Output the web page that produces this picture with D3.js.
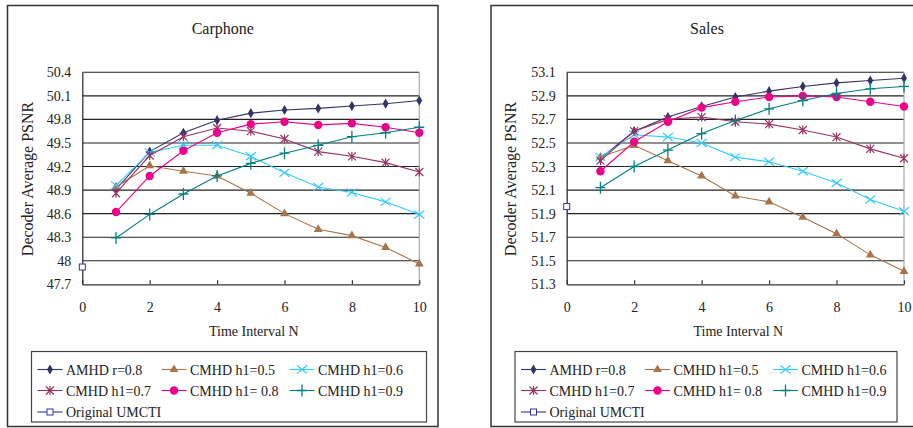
<!DOCTYPE html>
<html>
<head>
<meta charset="utf-8">
<script src="https://cdn.jsdelivr.net/npm/d3@7"></script>
<style>
  body { margin: 0; background: #fff; }
  svg text { font-family: "Liberation Serif", "Times New Roman", serif; fill: #222; }
</style>
</head>
<body>
<svg id="chart" width="913" height="428"></svg>
<script>
// time interval N for every series
let intervals = [1, 2, 3, 4, 5, 6, 7, 8, 9, 10];
let xTicks = [0, 2, 4, 6, 8, 10];

let seriesNames = ["AMHD r=0.8", "CMHD h1=0.5", "CMHD h1=0.6",
                   "CMHD h1=0.7", "CMHD h1= 0.8", "CMHD h1=0.9"];
let umctiName = "Original UMCTI";

// Carphone
let carphoneAMHD = [48.91, 49.39, 49.63, 49.79, 49.88, 49.92, 49.94, 49.97, 50.00, 50.04];
let carphoneH05  = [48.94, 49.21, 49.14, 49.08, 48.86, 48.60, 48.40, 48.32, 48.17, 47.96];
let carphoneH06  = [48.96, 49.38, 49.47, 49.47, 49.33, 49.12, 48.94, 48.87, 48.75, 48.59];
let carphoneH07  = [48.86, 49.34, 49.58, 49.69, 49.65, 49.55, 49.39, 49.33, 49.25, 49.13];
let carphoneH08  = [48.62, 49.08, 49.40, 49.63, 49.74, 49.77, 49.73, 49.75, 49.70, 49.63];
let carphoneH09  = [48.29, 48.59, 48.85, 49.08, 49.24, 49.37, 49.47, 49.58, 49.63, 49.70];
let carphoneUMCTI = 47.92;
let carphoneTicks = [47.7, 48.0, 48.3, 48.6, 48.9, 49.2, 49.5, 49.8, 50.1, 50.4];

// Sales
let salesAMHD = [52.37, 52.60, 52.72, 52.81, 52.89, 52.94, 52.98, 53.01, 53.03, 53.05];
let salesH05  = [52.38, 52.48, 52.35, 52.22, 52.05, 52.00, 51.87, 51.73, 51.55, 51.41];
let salesH06  = [52.38, 52.57, 52.55, 52.50, 52.38, 52.34, 52.26, 52.16, 52.02, 51.92];
let salesH07  = [52.35, 52.60, 52.70, 52.72, 52.68, 52.66, 52.61, 52.55, 52.45, 52.37];
let salesH08  = [52.26, 52.51, 52.68, 52.80, 52.85, 52.89, 52.90, 52.89, 52.85, 52.81];
let salesH09  = [52.12, 52.30, 52.44, 52.58, 52.69, 52.79, 52.86, 52.92, 52.96, 52.98];
let salesUMCTI = 51.96;
let salesTicks = [51.3, 51.5, 51.7, 51.9, 52.1, 52.3, 52.5, 52.7, 52.9, 53.1];

let colours = ["#333366", "#a8744a", "#33ccff", "#993366", "#ee0088", "#008080"];
let umctiColour = "#333399";
let shapes = ["diamond", "triangle", "cross", "star", "circle", "plus"];

let svg = d3.select("#chart");

function marker(g, shape, cx, cy, colour) {
    if (shape === "diamond") {
        g.append("path").attr("d", d3.symbol(d3.symbolDiamond, 30)())
            .attr("transform", "translate(" + cx + "," + cy + ")").attr("fill", colour);
    } else if (shape === "triangle") {
        g.append("path").attr("d", d3.symbol(d3.symbolTriangle, 34)())
            .attr("transform", "translate(" + cx + "," + cy + ")").attr("fill", colour);
    } else if (shape === "circle") {
        g.append("circle").attr("cx", cx).attr("cy", cy).attr("r", 4.2).attr("fill", colour);
    } else if (shape === "cross") {
        g.append("path").attr("d", "M-5,-4L5,4M-5,4L5,-4")
            .attr("transform", "translate(" + cx + "," + cy + ")")
            .attr("stroke", colour).attr("stroke-width", 1.2).attr("fill", "none");
    } else if (shape === "plus") {
        g.append("path").attr("d", "M-5,0L5,0M0,-6L0,6")
            .attr("transform", "translate(" + cx + "," + cy + ")")
            .attr("stroke", colour).attr("stroke-width", 1.3).attr("fill", "none");
    } else if (shape === "star") {
        g.append("path").attr("d", "M-4,-4L4,4M-4,4L4,-4M0,-4.5L0,4.5")
            .attr("transform", "translate(" + cx + "," + cy + ")")
            .attr("stroke", colour).attr("stroke-width", 1.2).attr("fill", "none");
    } else if (shape === "square") {
        g.append("rect").attr("x", cx - 3).attr("y", cy - 3).attr("width", 6).attr("height", 6)
            .attr("fill", "#fff").attr("stroke", colour).attr("stroke-width", 1);
    }
}

function drawPanel(p) {
    let g = svg.append("g");

    g.append("rect")
        .attr("x", p.frame[0]).attr("y", 5.5)
        .attr("width", p.frame[1]).attr("height", 421)
        .attr("fill", "#fff").attr("stroke", "#333").attr("stroke-width", 1.5);

    g.append("text")
        .attr("x", p.frame[0] + p.frame[1] / 2).attr("y", 34)
        .attr("text-anchor", "middle").attr("font-size", 16)
        .text(p.title);

    let x = d3.scaleLinear().domain([0, 10]).range([p.left, p.right]);
    let y = d3.scaleLinear().domain(d3.extent(p.ticks)).range([284.3, 72.3]);

    // gridlines
    g.selectAll(".grid").data(p.ticks.slice(1)).enter()
        .append("line")
        .attr("x1", p.left).attr("x2", p.right)
        .attr("y1", d => y(d)).attr("y2", d => y(d))
        .attr("stroke", "#222").attr("stroke-width", 1.1);

    g.append("line")
        .attr("x1", p.right).attr("x2", p.right)
        .attr("y1", y(p.ticks[p.ticks.length - 1])).attr("y2", 284.3)
        .attr("stroke", "#aaa").attr("stroke-width", 1.2);

    let yAxis = g.append("g")
        .attr("transform", "translate(" + p.left + ",0)")
        .call(d3.axisLeft(y).tickValues(p.ticks).tickSize(0).tickPadding(11)
            .tickFormat(d => String(+d.toFixed(1))))
        .attr("font-family", "Liberation Serif").attr("font-size", 14);
    yAxis.select(".domain").attr("stroke", "#333").attr("stroke-width", 1.3);
    yAxis.selectAll("text").attr("fill", "#222");

    let xAxis = g.append("g")
        .attr("transform", "translate(0,284.3)")
        .call(d3.axisBottom(x).tickValues(xTicks).tickSize(-4).tickPadding(18).tickSizeOuter(0))
        .attr("font-family", "Liberation Serif").attr("font-size", 14);
    xAxis.select(".domain").attr("stroke", "#333").attr("stroke-width", 1.3);
    xAxis.selectAll(".tick line").attr("stroke", "#333").attr("stroke-width", 1.2);
    xAxis.selectAll("text").attr("fill", "#222");

    g.append("text")
        .attr("transform", "translate(" + p.yTitleX + ",179) rotate(-90)")
        .attr("text-anchor", "middle").attr("font-size", 16)
        .text("Decoder Average PSNR");

    g.append("text")
        .attr("x", (p.left + p.right) / 2 + 3).attr("y", 336)
        .attr("text-anchor", "middle").attr("font-size", 14)
        .text("Time Interval N");

    let line = d3.line().x((d, i) => x(intervals[i])).y(d => y(d));

    p.series.forEach((vals, s) => {
        g.append("path").datum(vals)
            .attr("d", line).attr("fill", "none")
            .attr("stroke", colours[s]).attr("stroke-width", 1.1);
        vals.forEach((v, i) => marker(g, shapes[s], x(intervals[i]), y(v), colours[s]));
    });
    marker(g, "square", x(0), y(p.umcti), umctiColour);

    // legend
    let lg = g.append("g").attr("transform", "translate(" + p.legend[0] + ",351.5)");
    lg.append("rect").attr("width", p.legend[1]).attr("height", 70.5)
        .attr("fill", "#fff").attr("stroke", "#444").attr("stroke-width", 1.2);
    let names = seriesNames.concat([umctiName]);
    let rowY = [18, 39, 60.5];
    let colX = [6, 130, 258];
    names.forEach((name, i) => {
        let cx = colX[i % 3], cy = rowY[Math.floor(i / 3)];
        let colour = i < 6 ? colours[i] : umctiColour;
        lg.append("line").attr("x1", cx).attr("x2", cx + 25)
            .attr("y1", cy).attr("y2", cy)
            .attr("stroke", colour).attr("stroke-width", 1.1);
        marker(lg, i < 6 ? shapes[i] : "square", cx + 12.5, cy, colour);
        lg.append("text").attr("x", cx + 28.5).attr("y", cy + 5)
            .attr("font-size", 14).text(name);
    });
}

drawPanel({
    title: "Carphone",
    frame: [7.5, 430.5],
    left: 82.3, right: 419.3,
    yTitleX: 33,
    ticks: carphoneTicks,
    series: [carphoneAMHD, carphoneH05, carphoneH06, carphoneH07, carphoneH08, carphoneH09],
    umcti: carphoneUMCTI,
    legend: [31.5, 395]
});

drawPanel({
    title: "Sales",
    frame: [491, 432],
    left: 566.7, right: 904,
    yTitleX: 516,
    ticks: salesTicks,
    series: [salesAMHD, salesH05, salesH06, salesH07, salesH08, salesH09],
    umcti: salesUMCTI,
    legend: [515, 382]
});
</script>
</body>
</html>
